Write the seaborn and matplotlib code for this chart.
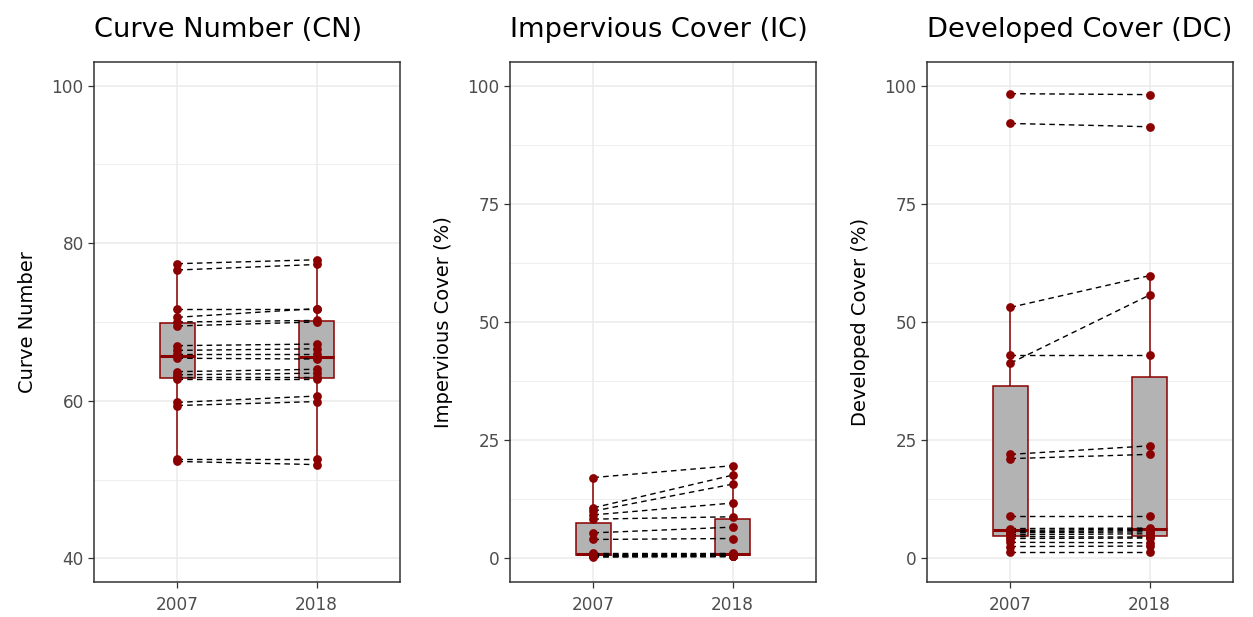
import numpy as np
import pandas as pd
import matplotlib
matplotlib.use("Agg")
import matplotlib.pyplot as plt
import seaborn as sns
from matplotlib.ticker import FixedLocator

# ---------------- data ----------------
years = ["2007", "2018"]

cn_2007 = [77.4, 76.6, 71.7, 70.6, 70.0, 69.5, 67.0, 66.4, 65.9, 65.4, 63.7, 63.3, 63.0, 62.8, 59.8, 59.4, 52.6, 52.3]
cn_2018 = [77.9, 77.3, 71.7, 71.7, 70.2, 70.0, 67.2, 66.6, 65.9, 65.3, 64.0, 63.5, 63.0, 62.8, 60.6, 59.9, 52.6, 51.9]

ic_2007 = [17.1, 10.7, 10.0, 9.2, 8.3, 5.4, 4.0, 1.2, 0.9, 0.8, 0.8, 0.7, 0.7, 0.6, 0.5, 0.5, 0.4, 0.3]
ic_2018 = [19.6, 17.6, 15.7, 11.7, 8.8, 6.6, 4.2, 1.2, 1.0, 0.9, 0.8, 0.8, 0.7, 0.6, 0.6, 0.5, 0.5, 0.4]

dc_2007 = [98.3, 92.0, 53.1, 41.3, 43.1, 22.0, 21.1, 9.0, 6.3, 5.9, 5.6, 5.4, 5.0, 4.6, 4.2, 3.4, 2.5, 1.3]
dc_2018 = [98.1, 91.3, 59.8, 55.7, 43.1, 23.8, 22.0, 9.0, 6.4, 6.2, 5.9, 5.6, 5.2, 4.5, 4.3, 3.3, 2.6, 1.3]

titles = ["Curve Number (CN)", "Impervious Cover (IC)", "Developed Cover (DC)"]
ylabels = ["Curve Number", "Impervious Cover (%)", "Developed Cover (%)"]
major_ticks = [[40, 60, 80, 100], [0, 25, 50, 75, 100], [0, 25, 50, 75, 100]]
minor_ticks = [[50, 70, 90], [12.5, 37.5, 62.5, 87.5], [12.5, 37.5, 62.5, 87.5]]
ylims = [(37, 103), (-5, 105), (-5, 105)]
series = [(cn_2007, cn_2018), (ic_2007, ic_2018), (dc_2007, dc_2018)]

# ---------------- style ----------------
sns.set_theme(style="white")
plt.rcParams["font.family"] = ["DejaVu Sans"]

W, H = 1253, 617
fig = plt.figure(figsize=(W / 100, H / 100), dpi=100)
fig.patch.set_facecolor("white")

lefts = [94, 510, 927]
BOX_FILL = "#B3B3B3"
DARKRED = "#8B0000"

for i in range(3):
    v07, v18 = series[i]
    n = len(v07)
    df = pd.DataFrame({
        "site": list(range(n)) * 2,
        "year": [years[0]] * n + [years[1]] * n,
        "value": list(v07) + list(v18),
    })
    ax = fig.add_axes([lefts[i] / W, 1 - 582 / H, 306 / W, 520 / H])

    sns.boxplot(data=df, x="year", y="value", order=years, width=0.25,
                color=BOX_FILL, saturation=1, linecolor=DARKRED, linewidth=1.1,
                showfliers=False, showcaps=False, whis=1.5,
                medianprops=dict(linewidth=2.2, color=DARKRED),
                ax=ax, zorder=2)
    sns.lineplot(data=df, x="year", y="value", units="site", estimator=None,
                 sort=False, color="black", linestyle=(0, (4, 3)), linewidth=1.0,
                 ax=ax, zorder=3, legend=False)
    sns.stripplot(data=df, x="year", y="value", order=years, jitter=False,
                  color=DARKRED, size=6.3, linewidth=0, ax=ax, zorder=4)

    ax.set_xlim(-0.6, 1.6)
    ax.set_ylim(*ylims[i])
    ax.yaxis.set_major_locator(FixedLocator(major_ticks[i]))
    ax.yaxis.set_minor_locator(FixedLocator(minor_ticks[i]))
    ax.set_xticks([0, 1])
    ax.set_xticklabels(years)

    ax.set_axisbelow(True)
    ax.grid(True, which="major", color="#EBEBEB", linewidth=1.1, zorder=0)
    ax.grid(True, which="minor", axis="y", color="#EBEBEB", linewidth=0.6, zorder=0)
    ax.xaxis.grid(True, which="major", color="#EBEBEB", linewidth=1.1)

    for sp in ax.spines.values():
        sp.set_visible(True)
        sp.set_color("#333333")
        sp.set_linewidth(1.1)

    ax.tick_params(which="major", length=4.3, width=0.9, color="#333333",
                   labelcolor="#4D4D4D", labelsize=12.2, bottom=True, left=True)
    ax.tick_params(axis="y", which="major", pad=3)
    ax.tick_params(axis="x", which="major", pad=6)
    ax.tick_params(which="minor", length=0)

    ax.set_xlabel("")
    ax.set_ylabel(ylabels[i], fontsize=14, color="black", labelpad=10.5)
    ax.set_title(titles[i], loc="left", fontsize=19.6, color="black", pad=18)

fig.savefig("out.png", dpi=100, facecolor="white")
